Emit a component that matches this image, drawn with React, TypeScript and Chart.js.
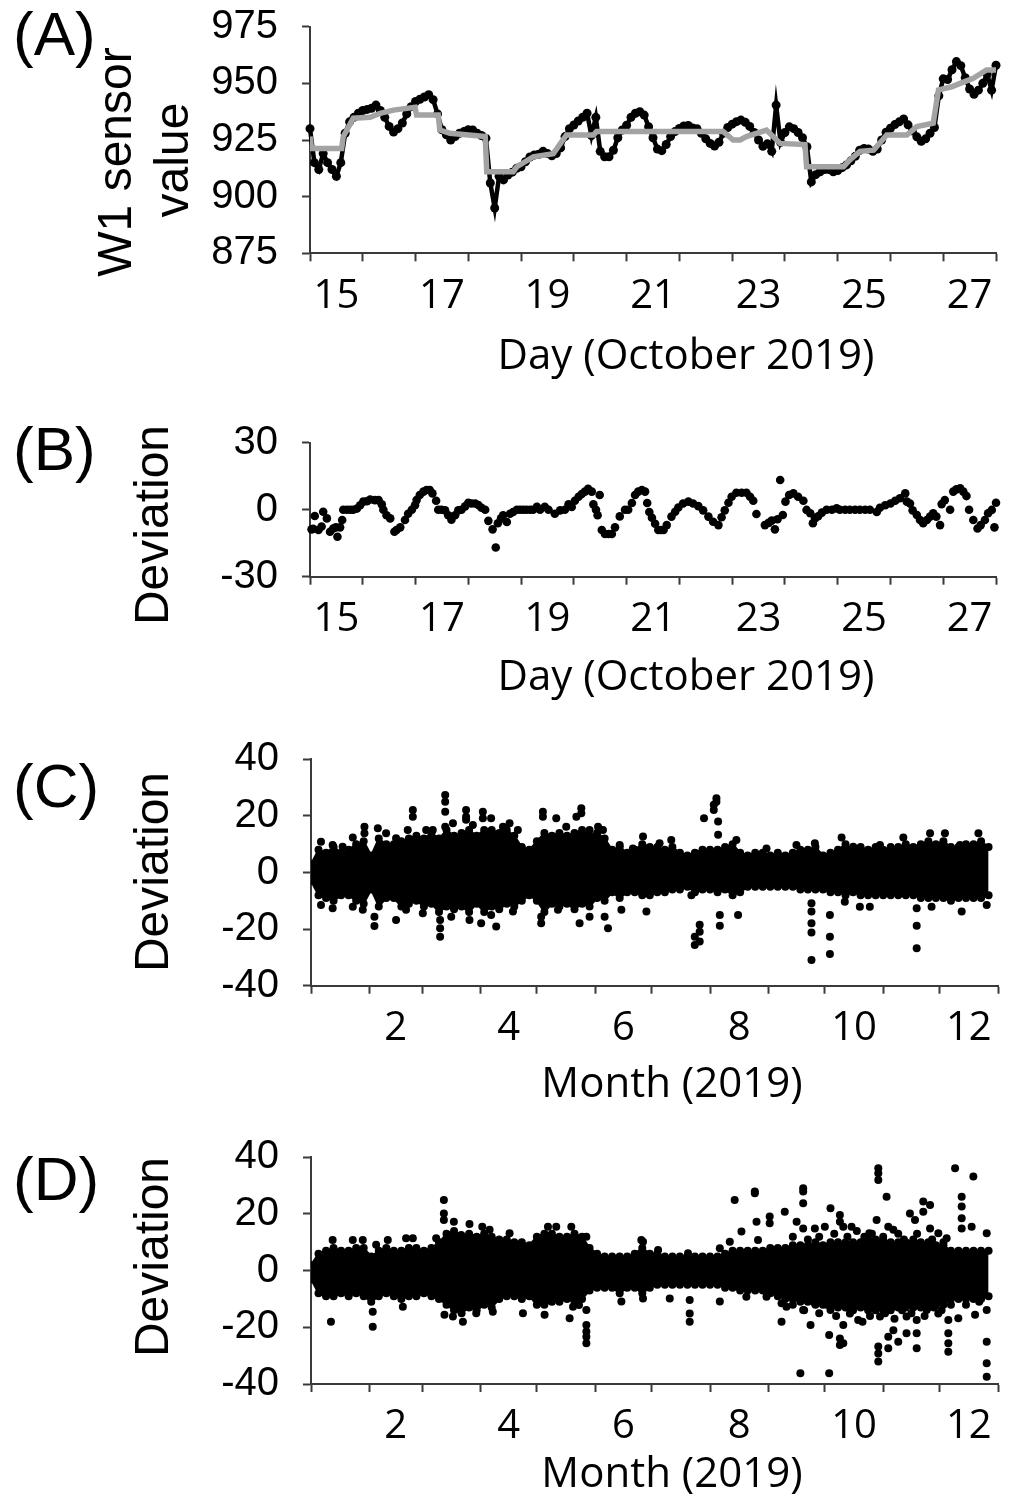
import React, { useEffect, useRef } from "react";
import { Chart, registerables } from "chart.js";

Chart.register(...registerables);

// ---------------- Panel A : W1 sensor (2-hour samples from Oct 15, 00:00) ----------------
const W1_START_DAY = 15;
const W1_STEP_DAY = 1 / 12;
const w1Sensor = [
  930, 915, 912, 919, 915, 912, 909, 915, 928, 933, 935, 936.8, 938, 938.5, 939, 940.4, 938, 935, 931, 928.5,
  930, 932.5, 936.5, 939.7, 942, 943, 944, 945, 942.8, 936.5, 929.5, 927.3, 925, 926.5, 928, 928.7, 929.5, 929.4, 928, 927,
  925.8, 906, 895, 909, 907.4, 909.5, 910.8, 912.5, 913.2, 915.4, 917.5, 918.4, 918.7, 920, 919, 918, 919, 921.5, 926.5, 930,
  931.6, 933.4, 935, 936.8, 927, 935, 920, 917.6, 917.6, 920.5, 926, 929.4, 931.5, 935, 936.8, 937.5, 936, 930.9, 926, 921,
  920.3, 923, 926.5, 928.7, 930.1, 931.2, 931.4, 930.3, 930, 928, 925.5, 923.5, 922.3, 924, 928, 930.5, 932, 933.1, 933.8, 932.8,
  931, 928.3, 925, 922.2, 923.3, 920, 940.4, 924, 928.3, 930.8, 930, 928.3, 926, 922, 906.5, 909.7, 911, 912, 912, 911,
  911.5, 912.8, 914, 915.8, 917.8, 920.5, 921.3, 921, 920, 921, 925, 928.4, 930.2, 931.8, 933, 934.3, 931.7, 929, 926.4, 924.4,
  925.5, 928, 930.5, 944.5, 952, 951.7, 956, 959.6, 957.8, 952.5, 947.5, 945.2, 947, 950, 954, 947, 958,
];
const smoothDays = [
  15.0, 15.03, 15.6, 15.63, 15.82, 16.14, 16.33, 16.58, 16.99, 17.02, 17.43, 17.46, 17.65, 18.32, 18.35, 18.85, 18.92,
  19.23, 19.61, 19.86, 20.37, 20.43, 22.83, 23.02, 23.15, 23.27, 23.65, 23.91, 24.38, 24.41, 25.11, 25.23, 25.42, 25.68,
  25.93, 26.31, 26.5, 26.81, 26.91, 27.16, 27.32, 27.57, 27.82, 28.0,
];
const smoothValues = [
  926.5, 921.3, 921.3, 926.5, 934.6, 935, 936.8, 938.2, 939.4, 936, 936, 929.4, 928, 926.5, 911, 911, 913.2,
  917.6, 919, 927.2, 927.2, 928.7, 928.7, 925, 925, 926.5, 929.4, 923.5, 923, 913.2, 913.2, 916.2, 920, 920.5,
  927.2, 927.2, 930.9, 932.4, 947.1, 948.5, 950, 952.2, 955.9, 955.9,
];

// ---------------- Panel B : deviation ----------------
const devDays = [
  15.03, 15.06, 15.09, 15.16, 15.22, 15.25, 15.32, 15.38, 15.44, 15.49, 15.52, 15.57, 15.61, 15.63, 15.7, 15.76, 15.82, 15.89, 15.95, 16.01,
  16.08, 16.14, 16.23, 16.3, 16.36, 16.39, 16.45, 16.52, 16.6, 16.64, 16.71, 16.8, 16.86, 16.93, 16.99, 17.02, 17.08, 17.15, 17.21, 17.27,
  17.32, 17.39, 17.43, 17.49, 17.56, 17.62, 17.68, 17.75, 17.81, 17.87, 17.94, 18.0, 18.06, 18.13, 18.19, 18.25, 18.32, 18.38, 18.46, 18.52,
  18.56, 18.62, 18.66, 18.73, 18.79, 18.85, 18.92, 18.98, 19.04, 19.1, 19.17, 19.23, 19.3, 19.36, 19.45, 19.52, 19.64, 19.74, 19.83, 19.9,
  19.96, 20.02, 20.09, 20.15, 20.21, 20.27, 20.34, 20.37, 20.42, 20.45, 20.49, 20.53, 20.59, 20.66, 20.72, 20.78, 20.87, 20.97, 21.03, 21.1,
  21.16, 21.22, 21.29, 21.35, 21.39, 21.43, 21.48, 21.54, 21.6, 21.65, 21.7, 21.76, 21.85, 21.92, 21.98, 22.07, 22.17, 22.26, 22.36, 22.45,
  22.55, 22.64, 22.74, 22.8, 22.86, 22.93, 22.99, 23.08, 23.18, 23.27, 23.34, 23.4, 23.46, 23.62, 23.69, 23.75, 23.81, 23.86, 23.91, 23.96,
  24.01, 24.08, 24.16, 24.25, 24.35, 24.41, 24.48, 24.53, 24.57, 24.63, 24.7, 24.79, 24.89, 24.98, 25.04, 25.14, 25.23, 25.33, 25.42, 25.52,
  25.61, 25.74, 25.8, 25.9, 26.0, 26.09, 26.18, 26.28, 26.31, 26.37, 26.42, 26.5, 26.56, 26.62, 26.69, 26.75, 26.81, 26.87, 26.94, 26.97,
  27.03, 27.13, 27.19, 27.25, 27.32, 27.38, 27.44, 27.49, 27.57, 27.65, 27.71, 27.79, 27.85, 27.92, 27.97, 28.0,
];
const devValues = [
  -8.8, -8.5, -2.8, -9.1, -7.5, -0.9, -3.9, -9.9, -8.4, -7.9, -12.1, -7.9, -4.6, 0, 0, 0, 0, 0.5, 2, 3.6,
  3.8, 4.6, 4.3, 4.3, 2.4, 0, -2.5, -3.9, -9.9, -9.1, -7.9, -4.6, -1.8, 0, 2, 4.3, 6.6, 8.1, 8.8, 8.8,
  7.3, 4, 0, 0, -0.3, -2.5, -4.5, -2.5, -0.3, 0, 1.5, 3.1, 2.8, 2.8, 2.1, 0.9, 0, -5, -8.8, -16.9,
  -6.1, -3.9, -2.5, -5.5, -1.8, -1, 0, 0, 0, 0, 0, 0, 1.3, 0, 1.3, 0, -1.8, -0.3, 0, 2.4,
  1.2, 4, 5.8, 7, 8.1, 9.4, 8.1, 2.4, 0, -2.5, 6.6, -9.1, -10.9, -10.9, -10.9, -7.9, -3, 0, 0, 3,
  6.6, 8.1, 8.8, 8.1, 3, -1, -3.6, -6.3, -9.1, -9.1, -9.1, -6.9, -3.1, -0.9, 1, 2.8, 3.6, 2.8, 1.6, -0.3,
  -3.1, -5.4, -6.9, -3.4, -0.3, 3.1, 5.8, 7.6, 7.6, 7.6, 5.8, 4, -1.9, -6.9, -5.9, -4.9, -8.8, -4.3, 13.3, -2.4,
  3.6, 6.6, 7.3, 5.8, 4, -0.1, -1.6, -6.1, -3.9, -2.9, -1.3, 0, 0, 0.6, 0, 0, 0, 0, 0, 0,
  0, -1, 0.9, 2, 2.8, 4, 5.1, 7.3, 3.6, 2.8, -0.3, -2.4, -4.6, -6.1, -4.6, -3.1, -1.6, -3.1, -6.9, 2.5,
  4.3, 0, 8.1, 9.1, 9.6, 8.1, 6.1, 0, -4.6, -8.4, -6.9, -4.6, -1.6, -0.1, -7.9, 3.1,
];

// ---------------- Panels C & D : yearly deviation clouds (day of year) ----------------
const bandDays = [
  0, 4, 8, 12, 16, 20, 24, 28, 32, 36, 40, 44, 48, 52, 56, 60, 64, 68, 72, 76,
  80, 84, 88, 92, 96, 100, 104, 108, 112, 116, 120, 124, 128, 132, 136, 140, 144, 148, 152, 156,
  160, 164, 168, 172, 176, 180, 184, 188, 192, 196, 200, 204, 208, 212, 216, 220, 224, 228, 232, 236,
  240, 244, 248, 252, 256, 260, 264, 268, 272, 276, 280, 284, 288, 292, 296, 300, 304, 308, 312, 316,
  320, 324, 328, 332, 336, 340, 344, 348, 352, 356, 360,
];
const cBandUpper = [
  3, 8, 7, 9, 7, 8, 10, 11, 6, 12, 10, 10, 11, 12, 13, 12, 14, 12, 15, 13,
  14, 15, 13, 15, 15, 14, 15, 13, 9, 8, 11, 14, 13, 14, 13, 14, 15, 13, 14, 12,
  8, 9, 7, 8, 10, 9, 9, 8, 9, 7, 6, 7, 8, 8, 8, 9, 10, 7, 6, 7,
  7, 6, 7, 6, 7, 8, 8, 9, 6, 7, 8, 10, 8, 9, 8, 9, 8, 9, 9, 10,
  9, 10, 11, 10, 11, 9, 9, 10, 10, 11, 9,
];
const cBandLower = [
  -3, -8, -9, -10, -8, -8, -10, -11, -6, -12, -9, -9, -12, -11, -10, -12, -11, -14, -12, -13,
  -12, -14, -11, -14, -12, -13, -11, -12, -10, -8, -10, -14, -11, -12, -11, -13, -11, -12, -9, -10,
  -7, -9, -7, -7, -8, -8, -7, -7, -6, -6, -5, -7, -6, -6, -7, -6, -8, -7, -5, -5,
  -5, -5, -5, -5, -5, -6, -6, -6, -6, -7, -7, -8, -7, -8, -8, -8, -8, -8, -8, -8,
  -8, -9, -9, -9, -9, -10, -9, -9, -9, -9, -8,
];
const cOutliers: [number, number][] = [
  [5.3, 10.9], [11.5, 9.7], [16.8, 9.1], [22.2, 12.4], [28.4, 16.2], [28.4, 13.9], [35.5, 15.6], [39.9, 13.9], [45.2, 12.1], [51.4, 15],
  [54.1, 22.1], [54.1, 19.7], [61.2, 15], [64.7, 15], [71.3, 27.4], [71.3, 25], [71.3, 21.5], [71.3, 16.2], [75.4, 17.4], [82.4, 22.1],
  [82.4, 19.7], [82.4, 18.6], [86, 16.8], [91.3, 21.5], [91.3, 19.2], [95.7, 19.2], [102, 16.2], [105.5, 17.4], [109.9, 15], [123.2, 21.5],
  [123.2, 19.7], [130.3, 19.2], [135.6, 16.2], [141, 19.7], [143.6, 22.7], [143.6, 20.9], [148, 15], [152.5, 16.2], [155.1, 15], [164, 9.7],
  [171, 8.5], [176.4, 12.7],
  [5.3, -11.5], [11.5, -12.6], [22.2, -12.1], [27.5, -13.2], [33.7, -15.6], [33.7, -18.9], [45.2, -16.8], [50.5, -13.2], [59.4, -14.4], [68.6, -22.7],
  [68.6, -19.7], [68.6, -16.8], [74.5, -15.6], [84.2, -16.8], [90.4, -17.9], [95.7, -15], [98.4, -19.1], [107.3, -13.8], [122.3, -17.9], [122.3, -15.6],
  [131.2, -13.2], [142.7, -17.9], [148, -15.6], [156, -15.6], [157.8, -19.7], [164.9, -13.2], [178.2, -13.8],
  [185.2, 10.3], [191.4, 11.5], [208.8, 19.2], [214, 22.1], [214, 23.9], [215.4, 26.2], [215.4, 25], [216.3, 18], [216.3, 13.3], [226, 11.5],
  [242, 8.5], [257.9, 9.7], [267.7, 10.3], [281.9, 12.4], [288.1, 9.1], [302.3, 9.7], [314.7, 12.4], [328.9, 13.9], [336.8, 13.9], [344.8, 9.7],
  [354.6, 13.9],
  [202.1, -8], [203.9, -25.6], [203.9, -22.7], [206.5, -24.4], [206.5, -20.9], [206.5, -18.5], [217.2, -15], [217.2, -18.8], [226.9, -15], [265.9, -10.9],
  [265.9, -13.8], [265.9, -17.9], [265.9, -21.2], [265.9, -30.9], [275.7, -15], [275.7, -22.7], [275.7, -28.8], [283.6, -10.3], [291.6, -12.1], [296.9, -12.1],
  [321.8, -12.6], [321.8, -18.8], [321.8, -26.8], [329.7, -12.1], [345.7, -13.8], [359, -11.5],
];

const dBandUpper = [
  2, 6, 7, 8, 7, 7, 8, 8, 5, 7, 8, 7, 7, 8, 8, 7, 8, 10, 13, 14,
  12, 13, 12, 13, 12, 11, 11, 10, 10, 9, 12, 13, 13, 12, 12, 13, 12, 8, 6, 5,
  5, 5, 5, 6, 8, 6, 6, 5, 5, 5, 5, 5, 5, 5, 5, 6, 7, 7, 7, 7,
  7, 8, 8, 8, 9, 9, 9, 10, 9, 10, 10, 10, 10, 10, 11, 11, 11, 10, 10, 10,
  11, 10, 10, 9, 9, 7, 7, 7, 7, 7, 7,
];
const dBandLower = [
  -3, -8, -9, -9, -8, -9, -8, -9, -11, -9, -8, -9, -10, -9, -9, -8, -9, -10, -12, -14,
  -15, -13, -14, -12, -13, -10, -9, -9, -10, -9, -12, -12, -11, -11, -10, -11, -10, -7, -6, -6,
  -6, -8, -6, -6, -8, -6, -5, -5, -5, -5, -5, -5, -5, -5, -5, -6, -6, -7, -7, -7,
  -7, -8, -9, -10, -10, -11, -11, -12, -12, -13, -13, -13, -13, -13, -14, -14, -14, -14, -13, -13,
  -13, -13, -13, -12, -12, -10, -10, -10, -10, -10, -9,
];
const dOutliers: [number, number][] = [
  [11.5, 10.8], [22.2, 10.8], [27.5, 10.8], [34.6, 9.1], [40.8, 10.8], [50.5, 11.4], [54.1, 11.4], [66.5, 11.4], [70.6, 24.9], [70.6, 20.2],
  [70.6, 17.9], [75.9, 17.3], [79.8, 12.6], [84.2, 16.5], [91, 15.5], [94.9, 14.4], [105.5, 13.2], [125.9, 15.5], [130.3, 15.5], [138.3, 15.5],
  [146.3, 12], [175.5, 10.8],
  [10.6, -18], [32.8, -14.5], [32.8, -19.8], [48.8, -12.7], [70.9, -15.6], [75.4, -16.2], [80.7, -18], [87.8, -15], [96.6, -14.5], [112.6, -15],
  [124.1, -15.6], [137.4, -16.8], [139.2, -12.7], [142.4, -12.1], [146.3, -13.9], [146.3, -19.2], [146.3, -21.5], [146.3, -23.3], [146.3, -25.6], [164.9, -10.9],
  [176.4, 10.2], [184.4, 7.3], [200.3, 6.1], [217.2, 7.9], [222.5, 10.2], [225.1, 24.9], [228.7, 13.8], [235.8, 27.9], [235.8, 27.3], [236.7, 17.3],
  [237.5, 10.8], [243.7, 19.1], [243.7, 16.7], [251.7, 20.8], [258, 17.3], [261.5, 29.1], [261.5, 27.9], [261.5, 23.8], [261.5, 14.9], [267.7, 14.9],
  [273, 15.5], [276, 22], [281, 19.6], [281, 17.3], [282.8, 15.5], [287.2, 15.5], [296.6, 13.2], [301.4, 36.1], [301.4, 34.4], [301.4, 32],
  [300.5, 17.9], [305.8, 26.1], [306.7, 15.5], [309.4, 14.4], [318.2, 20.2], [320.9, 17.9], [325.3, 24.4], [325.3, 20.8], [328.9, 23.2], [328.9, 14.9],
  [333.3, 13.2], [337.7, 11.4], [342.2, 36.1], [345.7, 26.1], [345.7, 22.6], [345.7, 18.5], [345.7, 14.9], [351.9, 33.2], [351, 15.5], [359, 13.2],
  [176.4, -9.8], [190.6, -9.8], [201.2, -10.4], [201.2, -15.1], [201.2, -18], [217.2, -10.9], [231.3, -9.2], [242, -9.2], [250, -11.5], [250, -18],
  [252.6, -12.7], [260, -36.2], [261.5, -13.9], [265.4, -19.2], [267.7, -11.5], [275.3, -36.2], [275.3, -22.7], [276, -13.9], [281, -23.9], [281, -26.2],
  [282.8, -19.2], [282.8, -25.6], [286.3, -15.1], [290.7, -17.4], [295.2, -10.4], [301.4, -26.8], [301.4, -29.2], [301.4, -32.1], [302.3, -16.2], [306.7, -23.3],
  [306.7, -27.4], [309.4, -21], [312, -25.1], [316.4, -22.1], [316.4, -16.2], [321.8, -22.1], [321.8, -27.4], [321.8, -17.4], [327.1, -13.9], [333.3, -15.1],
  [338.6, -22.1], [338.6, -25.6], [338.6, -28.6], [338.6, -17.4], [343.9, -16.8], [352.8, -15.6], [359, -25.1], [359, -32.7], [359, -37.4], [359, -13.9],
  [256, 12], [264, 11], [270, 12], [278, 13], [285, 12], [290, 14], [294, 12], [298, 13], [304, 12], [312, 13],
  [315, 11], [322, 13], [330, 11], [336, 10], [256, -12], [262, -14], [270, -15], [274, -12], [279, -16], [288, -14],
  [293, -18], [297, -16], [305, -15], [310, -17], [314, -14], [319, -15], [326, -16], [331, -13], [335, -14], [340, -12],
  [348, -12], [355, -11],
];

// ---------------- Axes ----------------
const dayBoundaries = [15, 16, 17, 18, 19, 20, 21, 22, 23, 24, 25, 26, 27, 28];
const dayLabelDays = [15, 17, 19, 21, 23, 25, 27];
const monthStartDays = [0, 31, 59, 90, 120, 151, 181, 212, 243, 273, 304, 334, 365];
const monthLabelMonths = [2, 4, 6, 8, 10, 12];
const yTicksA = [875, 900, 925, 950, 975];
const yTicksB = [-30, -15, 0, 15, 30];
const yLabelsB = [-30, 0, 30];
const yTicksCD = [-40, -30, -20, -10, 0, 10, 20, 30, 40];
const yLabelsCD = [-40, -20, 0, 20, 40];

const ARIAL = '"Liberation Sans", Arial, sans-serif';
const CALIBRI = '"Open Sans", sans-serif';
const AXIS_COLOR = "#3a3a3a";

type TextItem = { text: string; x: number; y: number; font: string; rotate?: boolean; align?: CanvasTextAlign };

function textPlugin(items: TextItem[]) {
  return {
    id: "panelText",
    afterDraw(chart: any) {
      const ctx = chart.ctx as CanvasRenderingContext2D;
      items.forEach((t) => {
        ctx.save();
        ctx.fillStyle = "#000";
        ctx.font = t.font;
        ctx.textAlign = t.align ?? "center";
        ctx.textBaseline = "middle";
        ctx.translate(t.x, t.y);
        if (t.rotate) ctx.rotate(-Math.PI / 2);
        ctx.fillText(t.text, 0, 0);
        ctx.restore();
      });
    },
  };
}

function xAxis(height: number, min: number, max: number, boundaries: number[], labelPos: number[], labels: string[]) {
  return {
    type: "linear",
    min,
    max,
    afterBuildTicks: (s: any) => {
      s.ticks = [...boundaries, ...labelPos].sort((a, b) => a - b).map((v) => ({ value: v }));
    },
    afterFit: (s: any) => {
      s.height = height;
      s.paddingLeft = 0;
      s.paddingRight = 0;
    },
    ticks: {
      autoSkip: false,
      maxRotation: 0,
      minRotation: 0,
      padding: 11,
      color: "#000",
      font: { family: CALIBRI, size: 40 },
      callback: (v: number) => {
        const i = labelPos.indexOf(v);
        return i >= 0 ? labels[i] : "";
      },
    },
    grid: {
      drawOnChartArea: false,
      drawTicks: true,
      tickLength: 8,
      tickColor: AXIS_COLOR,
      tickWidth: (c: any) => (c.tick && boundaries.includes(c.tick.value) ? 2 : 0),
    },
    border: { display: true, color: AXIS_COLOR, width: 2 },
  };
}

function xDayAxis(height: number) {
  return xAxis(height, 15, 28, dayBoundaries, dayLabelDays.map((d) => d + 0.5), dayLabelDays.map(String));
}

function xMonthAxis(height: number) {
  return xAxis(
    height,
    0,
    365,
    monthStartDays,
    monthLabelMonths.map((m) => (monthStartDays[m - 1] + monthStartDays[m]) / 2),
    monthLabelMonths.map(String)
  );
}

function yAxis(width: number, min: number, max: number, ticks: number[], labels: number[]) {
  return {
    type: "linear",
    min,
    max,
    afterBuildTicks: (s: any) => {
      s.ticks = ticks.map((v) => ({ value: v }));
    },
    afterFit: (s: any) => {
      s.width = width;
      s.paddingTop = 0;
      s.paddingBottom = 0;
    },
    ticks: {
      padding: 24,
      color: "#000",
      font: { family: ARIAL, size: 40 },
      callback: (v: number) => (labels.includes(v) ? String(v) : ""),
    },
    grid: { drawOnChartArea: false, drawTicks: true, tickLength: 8, tickColor: AXIS_COLOR, tickWidth: 2 },
    border: { display: true, color: AXIS_COLOR, width: 2 },
  };
}

function baseOptions(padTop: number, padRight: number, x: any, y: any) {
  return {
    responsive: false,
    animation: false,
    events: [],
    layout: { padding: { top: padTop, left: 0, right: padRight, bottom: 0 } },
    plugins: { legend: { display: false }, tooltip: { enabled: false } },
    scales: { x, y },
  };
}

const PANEL_A = { top: 0, height: 395 };
const PANEL_B = { top: 395, height: 320 };
const PANEL_C = { top: 715, height: 395 };
const PANEL_D = { top: 1110, height: 390 };

function buildA() {
  return {
    type: "line",
    data: {
      datasets: [
        {
          label: "W1 sensor value",
          data: w1Sensor.map((v, i) => ({ x: W1_START_DAY + i * W1_STEP_DAY, y: v })),
          borderColor: "#000",
          backgroundColor: "#000",
          borderWidth: 4.5,
          pointRadius: 4.5,
          pointBorderWidth: 0,
          order: 2,
          clip: false,
        },
        {
          label: "Smoothed",
          data: smoothDays.map((d, i) => ({ x: d, y: smoothValues[i] })),
          borderColor: "#a3a3a3",
          borderWidth: 5.5,
          pointRadius: 0,
          order: 1,
        },
      ],
    },
    options: baseOptions(26.7, 17, xDayAxis(PANEL_A.height - 253.3), yAxis(310, 875, 975, yTicksA, yTicksA)),
    plugins: [
      textPlugin([
        { text: "(A)", x: 13, y: 38, font: `62px ${ARIAL}`, align: "left" },
        { text: "W1 sensor", x: 118, y: 162, font: `48px ${ARIAL}`, rotate: true },
        { text: "value", x: 175, y: 160, font: `48px ${ARIAL}`, rotate: true },
        { text: "Day (October 2019)", x: 686, y: 357, font: `42px ${CALIBRI}` },
      ]),
    ],
  };
}

function buildB() {
  const t = PANEL_B.top;
  return {
    type: "scatter",
    data: {
      datasets: [
        {
          label: "Deviation",
          data: devDays.map((d, i) => ({ x: d, y: devValues[i] })),
          backgroundColor: "#000",
          borderColor: "#000",
          pointRadius: 4.3,
          pointBorderWidth: 0,
          clip: false,
        },
      ],
    },
    options: baseOptions(442.7 - t, 17, xDayAxis(PANEL_B.height - (576.7 - t)), yAxis(310, -30, 30, yTicksB, yLabelsB)),
    plugins: [
      textPlugin([
        { text: "(B)", x: 13, y: 453 - t, font: `62px ${ARIAL}`, align: "left" },
        { text: "Deviation", x: 155, y: 525 - t, font: `48px ${ARIAL}`, rotate: true },
        { text: "Day (October 2019)", x: 686, y: 678 - t, font: `42px ${CALIBRI}` },
      ]),
    ],
  };
}

function buildCloud(
  panel: { top: number; height: number },
  top: number,
  bottom: number,
  upper: number[],
  lower: number[],
  outliers: [number, number][],
  label: string,
  labelY: number,
  devY: number,
  titleY: number
) {
  const t = panel.top;
  const bandStyle = {
    type: "line",
    borderColor: "#000",
    backgroundColor: "#000",
    borderWidth: 2,
    pointRadius: 4,
    pointBorderWidth: 0,
    pointBackgroundColor: "#000",
  };
  return {
    type: "scatter",
    data: {
      datasets: [
        { ...bandStyle, label: "upper", data: bandDays.map((d, i) => ({ x: d, y: upper[i] })), fill: "+1" },
        { ...bandStyle, label: "lower", data: bandDays.map((d, i) => ({ x: d, y: lower[i] })), fill: false },
        {
          label: "points",
          data: outliers.map(([d, v]) => ({ x: d, y: v })),
          backgroundColor: "#000",
          borderColor: "#000",
          pointRadius: 4,
          pointBorderWidth: 0,
          clip: false,
        },
      ],
    },
    options: baseOptions(top - t, 15, xMonthAxis(panel.height - (bottom - t)), yAxis(311, -40, 40, yTicksCD, yLabelsCD)),
    plugins: [
      textPlugin([
        { text: label, x: 13, y: labelY - t, font: `62px ${ARIAL}`, align: "left" },
        { text: "Deviation", x: 155, y: devY - t, font: `48px ${ARIAL}`, rotate: true },
        { text: "Month (2019)", x: 672, y: titleY - t, font: `42px ${CALIBRI}` },
      ]),
    ],
  };
}

function ChartPanel({ top, height, build }: { top: number; height: number; build: () => any }) {
  const ref = useRef<HTMLCanvasElement>(null);
  useEffect(() => {
    const chart = new Chart(ref.current as HTMLCanvasElement, build());
    return () => chart.destroy();
  }, []);
  return (
    <canvas
      ref={ref}
      width={1013}
      height={height}
      style={{ position: "absolute", left: 0, top, width: 1013, height, display: "block" }}
    />
  );
}

export default function App() {
  return (
    <div style={{ position: "absolute", left: 0, top: 0, width: 1013, height: 1500, background: "#fff" }}>
      <ChartPanel top={PANEL_A.top} height={PANEL_A.height} build={buildA} />
      <ChartPanel top={PANEL_B.top} height={PANEL_B.height} build={buildB} />
      <ChartPanel
        top={PANEL_C.top}
        height={PANEL_C.height}
        build={() => buildCloud(PANEL_C, 759.3, 985.7, cBandUpper, cBandLower, cOutliers, "(C)", 790, 872, 1085)}
      />
      <ChartPanel
        top={PANEL_D.top}
        height={PANEL_D.height}
        build={() => buildCloud(PANEL_D, 1157.3, 1384, dBandUpper, dBandLower, dOutliers, "(D)", 1183, 1257, 1475)}
      />
    </div>
  );
}
